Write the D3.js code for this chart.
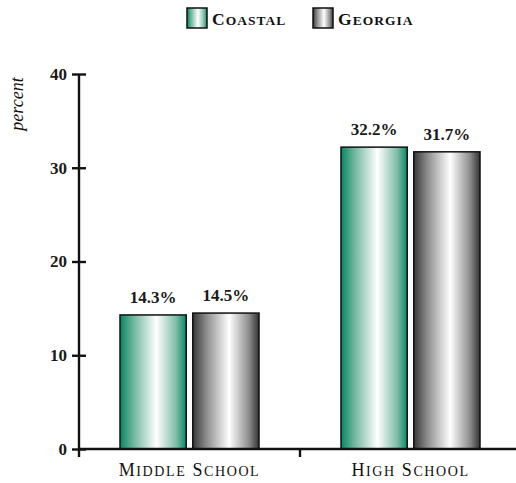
<!DOCTYPE html>
<html><head><meta charset="utf-8">
<script src="https://cdn.jsdelivr.net/npm/d3@7"></script>
<style>body{margin:0;background:#fff}svg{display:block}</style>
</head><body>
<script>
const categories = ["Middle School", "High School"];
const seriesNames = ["Coastal", "Georgia"];
const coastal = [14.3, 32.2];
const georgia = [14.5, 31.7];
const yTicks = [0, 10, 20, 30, 40];

const W = 516, H = 483;
const svg = d3.select("body").append("svg").attr("width", W).attr("height", H);
const font = "'Liberation Serif', 'Times New Roman', serif";

const defs = svg.append("defs");
function grad(id, stops) {
  const g = defs.append("linearGradient").attr("id", id).attr("x1", "0%").attr("x2", "100%");
  stops.forEach(([o, c]) => g.append("stop").attr("offset", o).attr("stop-color", c));
}
grad("gC", [["0%", "#058762"], ["20%", "#6fb59c"], ["55%", "#ffffff"], ["85%", "#7dbca6"], ["100%", "#068a66"]]);
grad("gG", [["0%", "#383838"], ["20%", "#8a8a8a"], ["55%", "#ffffff"], ["85%", "#8c8c8c"], ["100%", "#333333"]]);
const fills = ["url(#gC)", "url(#gG)"];

// manual small caps: first letter of each word large, the rest uppercase smaller
function smallCaps(sel, big, small) {
  sel.each(function(d) {
    const t = d3.select(this);
    const txt = t.text();
    t.text(null);
    txt.split(" ").forEach((w, i) => {
      t.append("tspan").attr("font-size", big).text((i ? " " : "") + w[0].toUpperCase());
      t.append("tspan").attr("font-size", small).text(w.slice(1).toUpperCase());
    });
  });
}

const y = d3.scaleLinear().domain([0, 40]).range([449, 74]);
const x0 = d3.scaleBand().domain(categories).range([79, 521]).padding(0);
const x1 = d3.scaleBand().domain(seriesNames).range([0, 139]).paddingInner(0.09);
const off = (x0.bandwidth() - 139) / 2;

const data = categories.map((c, i) => ({c, vals: [coastal[i], georgia[i]]}));

// bars
const groups = svg.append("g").selectAll("g").data(data).join("g")
  .attr("transform", d => `translate(${x0(d.c) + off},0)`);
groups.selectAll("rect").data(d => d.vals.map((v, j) => ({v, s: seriesNames[j], j})))
  .join("rect")
  .attr("x", d => x1(d.s)).attr("width", x1.bandwidth())
  .attr("y", d => y(d.v)).attr("height", d => y(0) - y(d.v))
  .attr("fill", d => fills[d.j]).attr("stroke", "#111").attr("stroke-width", 1.5);
groups.selectAll("text").data(d => d.vals.map((v, j) => ({v, s: seriesNames[j]})))
  .join("text")
  .attr("x", d => x1(d.s) + x1.bandwidth() / 2).attr("y", d => y(d.v) - 12)
  .attr("text-anchor", "middle").style("font-family", font).attr("font-size", 17)
  .attr("font-weight", "bold").attr("fill", "#1a1a1a")
  .text(d => d.v.toFixed(1) + "%");

// y axis
const yAxis = svg.append("g").attr("transform", "translate(79,0)")
  .call(d3.axisLeft(y).tickValues(yTicks).tickSize(7).tickSizeOuter(0));
yAxis.attr("font-family", null);
yAxis.select(".domain").attr("d", `M0,${y(40)}V457`).attr("stroke", "#111").attr("stroke-width", 2.4);
yAxis.selectAll(".tick line").attr("x1", -7).attr("x2", 7).attr("stroke", "#111").attr("stroke-width", 2.4);
yAxis.selectAll(".tick text").attr("x", -12).style("font-family", font).attr("font-size", 17)
  .attr("font-weight", "bold").attr("fill", "#1a1a1a");

// x axis
const xAxis = svg.append("g").attr("transform", `translate(0,${y(0)})`)
  .call(d3.axisBottom(x0).tickSize(0).tickSizeOuter(0));
xAxis.attr("font-family", null);
xAxis.select(".domain").attr("d", `M79,0H516`).attr("stroke", "#111").attr("stroke-width", 2.4);
xAxis.selectAll(".tick line").remove();
xAxis.selectAll(".tick text").attr("y", 27).attr("dy", null).style("font-family", font)
  .attr("letter-spacing", 1.6).attr("fill", "#111")
  .call(smallCaps, 18, 14);
// boundary tick between categories
xAxis.append("line").attr("x1", x0(categories[1])).attr("x2", x0(categories[1]))
  .attr("y1", 0).attr("y2", 8).attr("stroke", "#111").attr("stroke-width", 2.4);

// y label
svg.append("text").attr("transform", "translate(23,104) rotate(-90)")
  .attr("text-anchor", "middle").style("font-family", font).attr("font-style", "italic")
  .attr("font-size", 18).attr("fill", "#111").text("percent");

// legend
const legX = [187, 313];
const leg = svg.append("g").selectAll("g").data(seriesNames).join("g")
  .attr("transform", (d, i) => `translate(${legX[i]},8)`);
leg.append("rect").attr("width", 20).attr("height", 20).attr("fill", (d, i) => fills[i])
  .attr("stroke", "#111").attr("stroke-width", 1.5);
leg.append("text").attr("x", 25).attr("y", 17).style("font-family", font)
  .attr("font-weight", "bold").attr("letter-spacing", 1).attr("fill", "#111").text(d => d)
  .call(smallCaps, 17.5, 13.5);
</script>
</body></html>
